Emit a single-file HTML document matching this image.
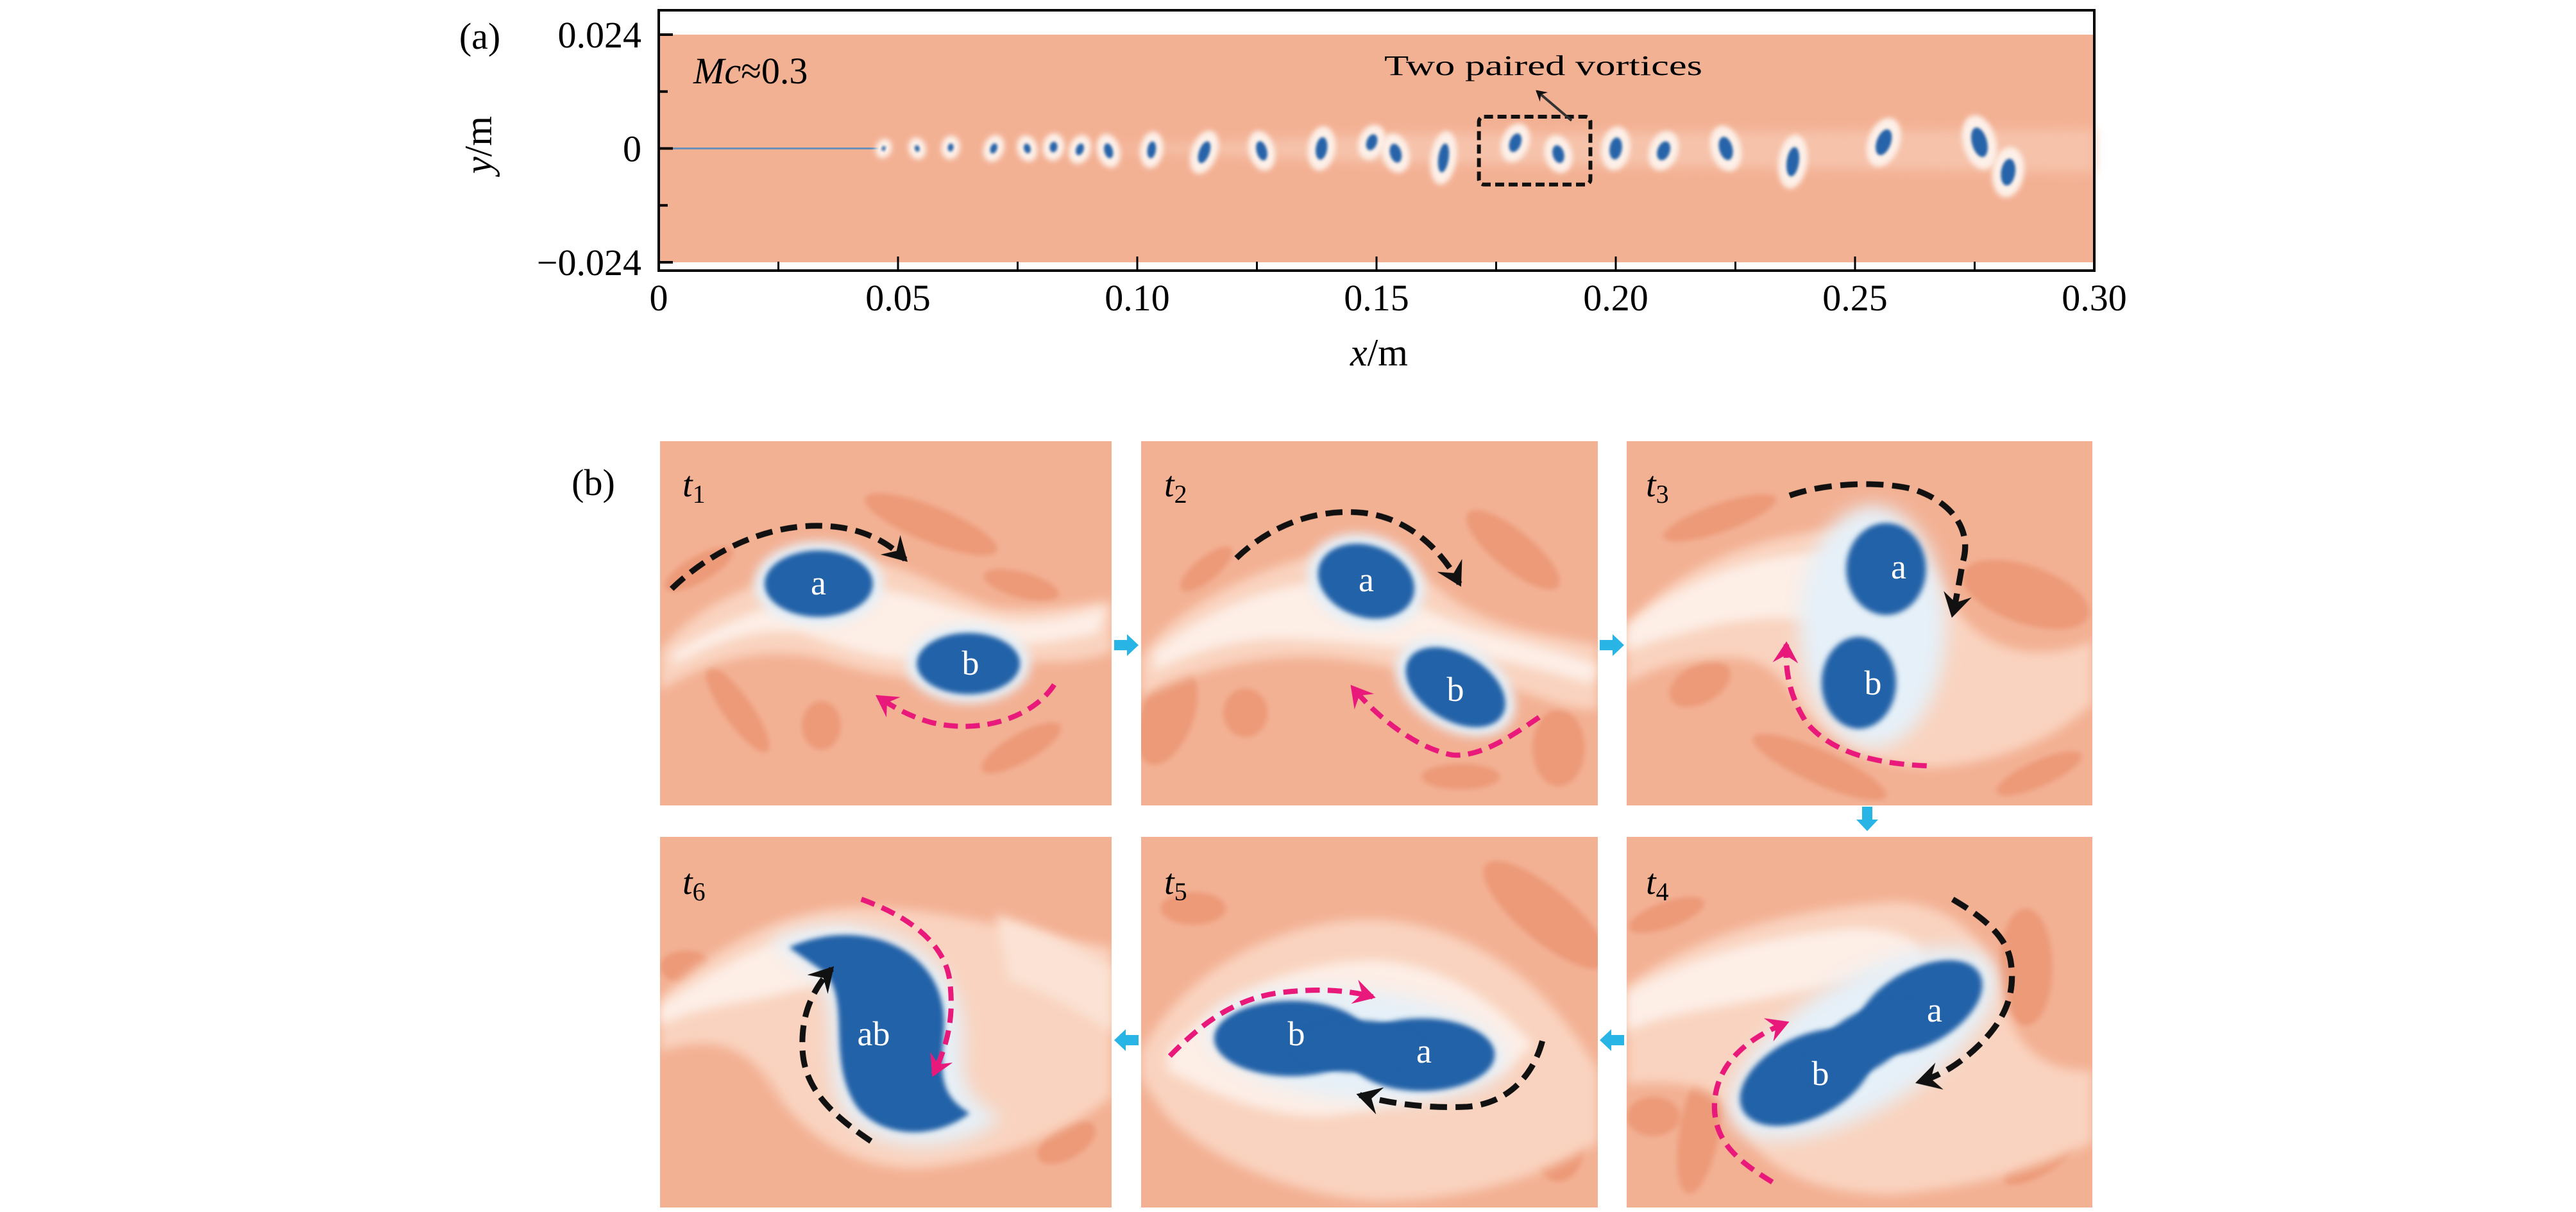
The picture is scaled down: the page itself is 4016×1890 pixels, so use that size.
<!DOCTYPE html>
<html><head><meta charset="utf-8">
<style>
html,body{margin:0;padding:0;background:#fff;}
svg{display:block;}
.serif{font-family:"Liberation Serif",serif;}
</style></head>
<body>
<svg id="root" width="4016" height="1890" viewBox="0 0 4016 1890" xmlns="http://www.w3.org/2000/svg">
<defs>
  <filter id="blur8" x="-30%" y="-30%" width="160%" height="160%"><feGaussianBlur stdDeviation="8"/></filter>
  <filter id="blur4" x="-30%" y="-30%" width="160%" height="160%"><feGaussianBlur stdDeviation="4"/></filter>
  <filter id="blur2" x="-30%" y="-30%" width="160%" height="160%"><feGaussianBlur stdDeviation="2"/></filter>
  <filter id="blur14" x="-30%" y="-30%" width="160%" height="160%"><feGaussianBlur stdDeviation="14"/></filter>
  <marker id="ahK" viewBox="0 0 20 20" refX="14" refY="10" markerWidth="6" markerHeight="6" orient="auto" markerUnits="strokeWidth"><path d="M2,2 L16,10 L2,18 L7,10 Z" fill="#111"/></marker>
  <marker id="ahP" viewBox="0 0 20 20" refX="14" refY="10" markerWidth="6" markerHeight="6" orient="auto" markerUnits="strokeWidth"><path d="M2,2 L16,10 L2,18 L7,10 Z" fill="#e8197a"/></marker>
</defs>

<!-- ================= Panel (a) ================= -->
<g id="panelA">
  <text class="serif" x="748" y="76" font-size="58" text-anchor="middle">(a)</text>
  <g id="plotA"></g>
  <text class="serif" x="0" y="0" font-size="60" text-anchor="middle" transform="translate(766,226) rotate(-90)"><tspan font-style="italic">y</tspan>/m</text>
  <text class="serif" x="2150" y="570" font-size="60" text-anchor="middle"><tspan font-style="italic">x</tspan>/m</text>
</g>

<!-- ================= Panel (b) ================= -->
<text class="serif" x="925" y="772" font-size="58" text-anchor="middle">(b)</text>

<!-- t1 -->
<svg x="1029" y="688" width="704" height="568" viewBox="0 0 700 570" preserveAspectRatio="none">
  <rect width="700" height="570" fill="#f3b194"/>
  <g fill="#ec9a78" filter="url(#blur4)">
    <ellipse cx="420" cy="130" rx="110" ry="28" transform="rotate(22 420 130)"/>
    <ellipse cx="560" cy="225" rx="60" ry="20" transform="rotate(15 560 225)"/>
    <ellipse cx="120" cy="420" rx="80" ry="22" transform="rotate(55 120 420)"/>
    <ellipse cx="250" cy="445" rx="30" ry="38"/>
    <ellipse cx="560" cy="480" rx="70" ry="22" transform="rotate(-30 560 480)"/>
    <ellipse cx="60" cy="200" rx="60" ry="20" transform="rotate(-30 60 200)"/>
  </g>
  <path d="M0,330 C60,250 150,220 260,190 C360,170 420,230 520,260 C600,270 660,250 700,250 L700,330 C620,360 560,330 500,360 C420,380 340,370 250,340 C160,320 80,340 0,390 Z" fill="#f9d3bf" filter="url(#blur8)"/>
  <path d="M20,330 C100,280 180,250 270,230 C380,220 450,270 540,280 C600,285 650,270 690,260 L680,300 C600,320 520,320 440,340 C360,350 300,330 220,300 C140,290 80,320 20,350 Z" fill="#fdeee6" filter="url(#blur8)"/>
  <ellipse cx="246" cy="223" rx="100" ry="66" fill="#e6f0f8" filter="url(#blur8)"/>
  <ellipse cx="478" cy="348" rx="96" ry="62" fill="#e6f0f8" filter="url(#blur8)"/>
  <ellipse cx="246" cy="223" rx="84" ry="52" fill="#2462a8" filter="url(#blur4)"/>
  <ellipse cx="478" cy="348" rx="80" ry="48" fill="#2462a8" filter="url(#blur4)"/>
  <path d="M18,231 C80,170 180,120 280,135 C330,143 360,165 380,185" fill="none" stroke="#111" stroke-width="9" stroke-dasharray="26 13" marker-end="url(#ahK)"/>
  <path d="M611,381 C580,430 500,460 420,440 C385,430 360,415 338,400" fill="none" stroke="#e8197a" stroke-width="8" stroke-dasharray="22 12" marker-end="url(#ahP)"/>
</svg>

<!-- t2 -->
<svg x="1779" y="688" width="712" height="568" viewBox="0 0 700 570" preserveAspectRatio="none">
  <rect width="700" height="570" fill="#f3b194"/>
  <g fill="#ec9a78" filter="url(#blur4)">
    <ellipse cx="570" cy="170" rx="90" ry="30" transform="rotate(40 570 170)"/>
    <ellipse cx="100" cy="200" rx="50" ry="18" transform="rotate(-40 100 200)"/>
    <ellipse cx="160" cy="425" rx="34" ry="38"/>
    <ellipse cx="490" cy="525" rx="60" ry="20"/>
    <ellipse cx="640" cy="480" rx="40" ry="60"/>
    <ellipse cx="40" cy="430" rx="40" ry="80" transform="rotate(20 40 430)"/>
  </g>
  <path d="M0,340 C40,270 150,210 260,180 C360,160 420,200 480,250 C560,300 620,300 700,320 L700,420 C630,420 580,380 520,380 C440,370 390,350 300,340 C200,330 100,350 0,400 Z" fill="#f9d3bf" filter="url(#blur8)"/>
  <path d="M20,330 C90,270 180,230 270,220 C350,215 420,260 500,290 C560,310 620,320 700,350 L690,380 C620,360 560,340 480,335 C400,325 300,310 200,310 C120,315 60,340 20,360 Z" fill="#fdeee6" filter="url(#blur8)"/>
  <ellipse cx="345" cy="219" rx="92" ry="72" fill="#e6f0f8" filter="url(#blur8)" transform="rotate(20 345 219)"/>
  <ellipse cx="482" cy="385" rx="100" ry="66" fill="#e6f0f8" filter="url(#blur8)" transform="rotate(32 482 385)"/>
  <ellipse cx="345" cy="219" rx="76" ry="56" fill="#2462a8" filter="url(#blur4)" transform="rotate(20 345 219)"/>
  <ellipse cx="482" cy="385" rx="84" ry="52" fill="#2462a8" filter="url(#blur4)" transform="rotate(32 482 385)"/>
  <path d="M146,183 C200,130 270,105 340,112 C410,120 460,170 488,223" fill="none" stroke="#111" stroke-width="9" stroke-dasharray="26 13" marker-end="url(#ahK)"/>
  <path d="M610,432 C570,460 520,495 477,491 C420,480 360,430 324,385" fill="none" stroke="#e8197a" stroke-width="8" stroke-dasharray="22 12" marker-end="url(#ahP)"/>
</svg>

<!-- t3 -->
<svg x="2536" y="688" width="726" height="568" viewBox="0 0 700 570" preserveAspectRatio="none">
  <rect width="700" height="570" fill="#f3b194"/>
  <g fill="#ec9a78" filter="url(#blur4)">
    <ellipse cx="140" cy="120" rx="90" ry="22" transform="rotate(-20 140 120)"/>
    <ellipse cx="600" cy="240" rx="100" ry="45" transform="rotate(20 600 240)"/>
    <ellipse cx="110" cy="380" rx="50" ry="30" transform="rotate(-30 110 380)"/>
    <ellipse cx="290" cy="510" rx="110" ry="26" transform="rotate(25 290 510)"/>
    <ellipse cx="620" cy="520" rx="70" ry="20" transform="rotate(-25 620 520)"/>
  </g>
  <path d="M0,290 C80,190 200,150 300,140 C380,135 430,160 470,220 C500,280 540,330 620,330 C660,330 690,320 700,310 L700,410 C640,470 560,500 470,510 C380,515 300,470 260,410 C230,360 200,330 120,340 C70,345 30,360 0,380 Z" fill="#f9d3bf" filter="url(#blur8)"/>
  <path d="M0,290 C80,220 180,180 280,175 C340,175 380,200 400,250 L360,300 C280,270 180,270 90,300 C50,310 20,320 0,330 Z" fill="#fdeee6" filter="url(#blur8)"/>
  <ellipse cx="370" cy="290" rx="110" ry="190" fill="#e6f0f8" filter="url(#blur14)"/>
  <ellipse cx="390" cy="200" rx="60" ry="72" fill="#2462a8" filter="url(#blur4)"/>
  <ellipse cx="349" cy="378" rx="56" ry="72" fill="#2462a8" filter="url(#blur4)"/>
  <path d="M245,85 C300,65 380,62 430,75 C490,95 520,140 505,190 C500,220 495,250 490,271" fill="none" stroke="#111" stroke-width="9" stroke-dasharray="26 13" marker-end="url(#ahK)"/>
  <path d="M451,508 C380,505 310,490 270,440 C245,400 238,360 240,318" fill="none" stroke="#e8197a" stroke-width="8" stroke-dasharray="22 12" marker-end="url(#ahP)"/>
</svg>

<!-- t6 -->
<svg x="1029" y="1305" width="704" height="578" viewBox="0 0 700 570" preserveAspectRatio="none">
  <rect width="700" height="570" fill="#f3b194"/>
  <g fill="#ec9a78" filter="url(#blur4)">
    <ellipse cx="200" cy="310" rx="40" ry="90"/>
    <ellipse cx="480" cy="290" rx="30" ry="60"/>
    <ellipse cx="40" cy="200" rx="40" ry="25"/>
    <ellipse cx="630" cy="470" rx="50" ry="25" transform="rotate(-30 630 470)"/>
  </g>
  <path d="M0,250 C80,170 180,120 280,110 C420,100 560,150 700,170 L700,400 C620,460 520,500 400,510 C300,510 220,460 170,380 C140,330 90,300 0,330 Z" fill="#f9d3bf" filter="url(#blur8)"/>
  <path d="M0,260 C90,200 170,150 270,140 C330,140 360,170 330,210 C270,220 200,240 150,250 C90,260 40,270 0,290 Z" fill="#fdeee6" filter="url(#blur8)"/>
  <path d="M520,120 C600,140 660,180 700,200 L700,300 C650,270 600,240 540,220 Z" fill="#fbe2d4" filter="url(#blur8)"/>
  <path d="M170,160 C300,100 470,160 470,300 C470,360 460,400 530,430 C470,490 340,490 290,430 C240,360 290,250 230,210 Z" fill="#e6f0f8" filter="url(#blur14)"/>
  <path d="M200,170 C310,120 450,170 440,300 C436,360 430,395 480,425 C420,470 340,460 305,415 C255,340 300,245 250,205 Z" fill="#2462a8" filter="url(#blur4)"/>
  <path d="M312,96 C380,120 440,160 449,220 C455,270 450,310 424,365" fill="none" stroke="#e8197a" stroke-width="8" stroke-dasharray="22 12" marker-end="url(#ahP)"/>
  <path d="M327,468 C270,430 225,390 221,330 C218,280 232,240 266,203" fill="none" stroke="#111" stroke-width="9" stroke-dasharray="26 13" marker-end="url(#ahK)"/>
</svg>

<!-- t5 -->
<svg x="1779" y="1305" width="712" height="578" viewBox="0 0 700 570" preserveAspectRatio="none">
  <rect width="700" height="570" fill="#f3b194"/>
  <g fill="#ec9a78" filter="url(#blur4)">
    <ellipse cx="620" cy="120" rx="120" ry="40" transform="rotate(40 620 120)"/>
    <ellipse cx="80" cy="110" rx="50" ry="25"/>
    <ellipse cx="450" cy="480" rx="110" ry="30" transform="rotate(-10 450 480)"/>
    <ellipse cx="640" cy="470" rx="40" ry="60"/>
  </g>
  <path d="M0,330 C60,220 170,150 300,130 C420,115 520,160 600,230 C660,290 690,340 700,360 L700,470 C620,520 500,560 360,560 C220,550 100,490 40,430 C20,400 0,380 0,360 Z" fill="#f9d3bf" filter="url(#blur8)"/>
  <path d="M40,330 C120,240 240,190 360,190 C460,195 540,250 600,320 L560,360 C480,390 380,420 280,430 C180,430 100,390 40,360 Z" fill="#fdeee6" filter="url(#blur8)"/>
  <ellipse cx="330" cy="320" rx="230" ry="85" fill="#e6f0f8" filter="url(#blur14)" transform="rotate(6 330 320)"/>
  <ellipse cx="230" cy="310" rx="118" ry="58" fill="#2462a8" filter="url(#blur4)"/>
  <ellipse cx="430" cy="335" rx="112" ry="56" fill="#2462a8" filter="url(#blur4)"/>
  <ellipse cx="330" cy="322" rx="100" ry="40" fill="#2462a8" filter="url(#blur4)"/>
  <path d="M44,337 C90,290 140,250 210,240 C270,232 320,236 355,246" fill="none" stroke="#e8197a" stroke-width="8" stroke-dasharray="22 12" marker-end="url(#ahP)"/>
  <path d="M615,314 C600,370 560,410 500,415 C440,418 380,410 335,397" fill="none" stroke="#111" stroke-width="9" stroke-dasharray="26 13" marker-end="url(#ahK)"/>
</svg>

<!-- t4 -->
<svg x="2536" y="1305" width="726" height="578" viewBox="0 0 700 570" preserveAspectRatio="none">
  <rect width="700" height="570" fill="#f3b194"/>
  <g fill="#ec9a78" filter="url(#blur4)">
    <ellipse cx="60" cy="120" rx="60" ry="20" transform="rotate(-20 60 120)"/>
    <ellipse cx="600" cy="200" rx="40" ry="90"/>
    <ellipse cx="40" cy="430" rx="40" ry="30"/>
    <ellipse cx="110" cy="450" rx="30" ry="100" transform="rotate(10 110 450)"/>
    <ellipse cx="620" cy="500" rx="60" ry="20" transform="rotate(-30 620 500)"/>
  </g>
  <path d="M0,230 C100,150 250,110 400,100 C480,100 540,150 560,230 C580,320 620,360 700,360 L700,470 C620,510 520,540 400,550 C300,550 220,520 180,460 C150,400 120,370 0,380 Z" fill="#f9d3bf" filter="url(#blur8)"/>
  <path d="M0,240 C100,180 220,150 340,140 C420,140 460,170 440,200 C360,220 250,240 150,260 C90,270 40,280 0,300 Z" fill="#fdeee6" filter="url(#blur8)"/>
  <ellipse cx="355" cy="318" rx="230" ry="100" fill="#e6f0f8" filter="url(#blur14)" transform="rotate(-32 355 318)"/>
  <ellipse cx="270" cy="370" rx="108" ry="62" fill="#2462a8" filter="url(#blur4)" transform="rotate(-28 270 370)"/>
  <ellipse cx="440" cy="262" rx="104" ry="58" fill="#2462a8" filter="url(#blur4)" transform="rotate(-30 440 262)"/>
  <ellipse cx="355" cy="316" rx="100" ry="44" fill="#2462a8" filter="url(#blur4)" transform="rotate(-32 355 316)"/>
  <path d="M490,96 C530,120 570,150 577,190 C585,240 570,280 530,320 C500,350 470,368 439,377" fill="none" stroke="#111" stroke-width="9" stroke-dasharray="26 13" marker-end="url(#ahK)"/>
  <path d="M219,531 C170,500 130,470 132,410 C135,350 180,310 240,286" fill="none" stroke="#e8197a" stroke-width="8" stroke-dasharray="22 12" marker-end="url(#ahP)"/>
</svg>

<!-- frame labels and vortex letters -->
<g class="serif" font-size="56" font-style="italic">
  <text x="1064" y="774">t<tspan font-size="40" font-style="normal" dy="10">1</tspan></text>
  <text x="1815" y="774">t<tspan font-size="40" font-style="normal" dy="10">2</tspan></text>
  <text x="2566" y="774">t<tspan font-size="40" font-style="normal" dy="10">3</tspan></text>
  <text x="1064" y="1394">t<tspan font-size="40" font-style="normal" dy="10">6</tspan></text>
  <text x="1815" y="1394">t<tspan font-size="40" font-style="normal" dy="10">5</tspan></text>
  <text x="2566" y="1394">t<tspan font-size="40" font-style="normal" dy="10">4</tspan></text>
</g>
<g class="serif" font-size="54" fill="#fff" text-anchor="middle">
  <text x="1276" y="927">a</text><text x="1513" y="1052">b</text>
  <text x="2130" y="922">a</text><text x="2269" y="1093">b</text>
  <text x="2960" y="902">a</text><text x="2920" y="1083">b</text>
  <text x="1362" y="1630">ab</text>
  <text x="2021" y="1630">b</text><text x="2220" y="1657">a</text>
  <text x="3016" y="1593">a</text><text x="2838" y="1692">b</text>
</g>

<!-- cyan transition arrows -->
<g fill="#29b4e6">
  <path d="M1737,998 h20 v-9 l18,17 l-18,17 v-9 h-20 Z"/>
  <path d="M2494,998 h20 v-9 l18,17 l-18,17 v-9 h-20 Z"/>
  <path d="M2903,1258 v20 h-9 l17,18 l17,-18 h-9 v-20 Z"/>
  <path d="M2532,1614 h-20 v-9 l-18,17 l18,17 v-9 h20 Z"/>
  <path d="M1775,1614 h-20 v-9 l-18,17 l18,17 v-9 h20 Z"/>
</g>
</svg>

<script>
// ---- Panel (a) data ----
const xTicks = [0, 0.05, 0.10, 0.15, 0.20, 0.25, 0.30];
const xTickLabels = ["0", "0.05", "0.10", "0.15", "0.20", "0.25", "0.30"];
const xMinorTicks = [0.025, 0.075, 0.125, 0.175, 0.225, 0.275];
const yTicks = [0.024, 0, -0.024];
const yTickLabels = ["0.024", "0", "\u22120.024"];
const yMinorTicks = [0.012, -0.012];
const vortexX = [0.047,0.054,0.061,0.070,0.077,0.0825,0.088,0.094,0.103,0.114,0.126,0.1385,0.149,0.154,0.164,0.179,0.188,0.200,0.210,0.223,0.237,0.256,0.276,0.282];
const vortexY = [0,0,0.0002,0,0,0.0003,-0.0002,-0.0005,-0.0003,-0.0008,-0.0005,0,0.0013,-0.001,-0.002,0.0012,-0.0012,0,-0.0005,0,-0.0028,0.0013,0.0013,-0.005];
const vortexR = [0.0004,0.0005,0.0006,0.0007,0.0007,0.0008,0.0008,0.0009,0.0009,0.0011,0.0011,0.0012,0.0011,0.0012,0.0011,0.0012,0.0012,0.0013,0.0013,0.0014,0.0013,0.0015,0.0016,0.0015];
const vortexElong = [1.3,1.4,1.4,1.6,1.5,1.4,1.6,1.8,2.0,2.2,1.9,2.0,1.6,1.7,2.8,1.7,1.6,1.8,1.6,1.8,2.4,1.9,2.0,1.9];

const NS = "http://www.w3.org/2000/svg";
const L = 1027, R = 3265, T = 16, B = 422;
const X0 = 0, X1 = 0.30, Y0 = -0.024, Y1 = 0.024;
const yTop = 54, yBot = 409;
function sx(v){ return L + (v - X0) / (X1 - X0) * (R - L); }
function sy(v){ return yBot - (v - Y0) / (Y1 - Y0) * (yBot - yTop); }
function mk(tag, attrs, parent){ const e = document.createElementNS(NS, tag); for (const k in attrs) e.setAttribute(k, attrs[k]); parent.appendChild(e); return e; }

const g = document.getElementById('plotA');
const field = mk('rect', {x: L, y: yTop, width: R - L, height: yBot - yTop, fill: '#f3b194'}, g);



// wake light band
const band = mk('path', {d: `M${sx(0.09)},${sy(0)} L${sx(0.15)},${sy(0.003)} L${sx(0.3)},${sy(0.004)} L${sx(0.3)},${sy(-0.005)} L${sx(0.15)},${sy(-0.003)} Z`, fill: '#f6c2aa', filter: 'url(#blur8)'}, g);


// thin line at start
const line0 = mk('line', {x1: sx(0), y1: sy(0), x2: sx(0.046), y2: sy(0), stroke: '#6a90b8', 'stroke-width': 3}, g);



for (let i = 0; i < vortexX.length; i++) {
  const cx = sx(vortexX[i]), cy = sy(vortexY[i]);
  const r = (sy(0) - sy(vortexR[i]));
  const rot = i % 3 === 0 ? 20 : (i % 3 === 1 ? -15 : 8);
  const halo = mk('ellipse', {cx: cx, cy: cy, rx: r * 1.5 + 8, ry: r * vortexElong[i] * 1.4 + 10, fill: '#fdf0e8', filter: 'url(#blur4)', transform: `rotate(${rot} ${cx} ${cy})`}, g);
  
  
  const v = mk('ellipse', {cx: cx, cy: cy, rx: r, ry: r * vortexElong[i], fill: '#2563a9', filter: 'url(#blur2)', transform: `rotate(${rot} ${cx} ${cy})`}, g);
  
  
}

// axes frame
const frame = mk('rect', {x: L, y: T, width: R - L, height: B - T, fill: 'none', stroke: '#000', 'stroke-width': 4}, g);



for (let i = 0; i < xTicks.length; i++) {
  const x = sx(xTicks[i]);
  const t = mk('line', {x1: x, y1: B, x2: x, y2: B - 22, stroke: '#000', 'stroke-width': 3}, g);
  
  
  const lb = mk('text', {x: x, y: 484, 'font-size': 58, 'text-anchor': 'middle', 'font-family': '"Liberation Serif", serif'}, g);
  lb.textContent = xTickLabels[i];
  
  
}
for (const v of xMinorTicks) {
  const x = sx(v);
  const t = mk('line', {x1: x, y1: B, x2: x, y2: B - 14, stroke: '#000', 'stroke-width': 3}, g);
  
  
}
for (let i = 0; i < yTicks.length; i++) {
  const y = sy(yTicks[i]);
  const t = mk('line', {x1: L, y1: y, x2: L + 22, y2: y, stroke: '#000', 'stroke-width': 4}, g);
  
  
  const lb = mk('text', {x: 1000, y: y + 20, 'font-size': 58, 'text-anchor': 'end', 'font-family': '"Liberation Serif", serif'}, g);
  lb.textContent = yTickLabels[i];
  
  
}
for (const v of yMinorTicks) {
  const y = sy(v);
  const t = mk('line', {x1: L, y1: y, x2: L + 14, y2: y, stroke: '#000', 'stroke-width': 4}, g);
  
  
}

// annotations
const mc = mk('text', {x: 1081, y: 130, 'font-size': 58, 'font-family': '"Liberation Serif", serif'}, g);
mc.innerHTML = '<tspan font-style="italic">Mc</tspan>\u22480.3';



const box = mk('rect', {x: sx(0.1714), y: sy(0.0067), width: sx(0.1947) - sx(0.1714), height: sy(-0.0076) - sy(0.0067), rx: 8, fill: 'none', stroke: '#111', 'stroke-width': 6, 'stroke-dasharray': '14 7'}, g);


const arr = mk('line', {x1: 2450, y1: 188, x2: 2396, y2: 142, stroke: '#333', 'stroke-width': 4, 'marker-end': 'url(#ahK)'}, g);


const ann = mk('text', {x: 2158, y: 117, 'font-size': 44, textLength: 496, lengthAdjust: 'spacingAndGlyphs', 'font-family': '"Liberation Serif", serif'}, g);
ann.textContent = 'Two paired vortices';


</script>
</body></html>
